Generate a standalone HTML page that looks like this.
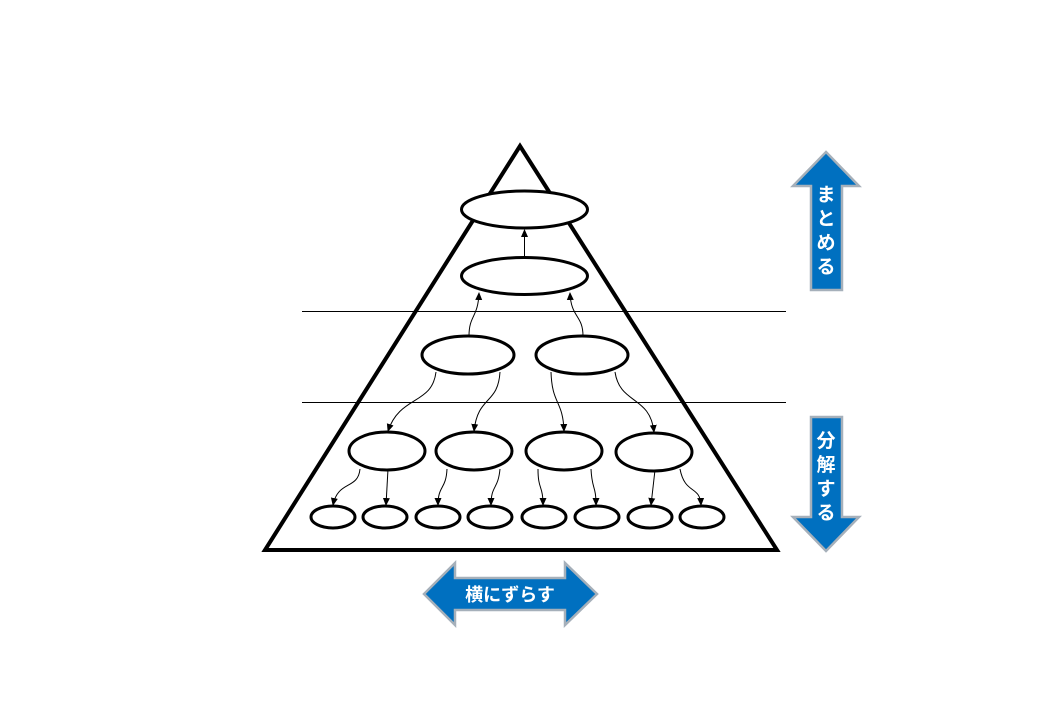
<!DOCTYPE html>
<html><head><meta charset="utf-8"><style>
html,body{margin:0;padding:0;background:#fff;width:1040px;height:720px;overflow:hidden}
svg{display:block}
text{font-family:"Liberation Sans","Noto Sans CJK JP",sans-serif;font-weight:bold;fill:#fff}
</style></head><body>
<svg width="1040" height="720" viewBox="0 0 1040 720" xmlns="http://www.w3.org/2000/svg">
<defs>
<marker id="a" markerWidth="8" markerHeight="8" refX="7" refY="4" orient="auto" markerUnits="userSpaceOnUse">
<path d="M0,0.5 L8,4 L0,7.5 Z" fill="#000"/></marker>
</defs>
<line x1="302" y1="311.5" x2="786" y2="311.5" stroke="#000" stroke-width="1"/>
<line x1="302" y1="402.5" x2="786" y2="402.5" stroke="#000" stroke-width="1"/>
<polygon points="520,146 265,550 777,550" fill="none" stroke="#000" stroke-width="4" stroke-linejoin="miter"/>
<g fill="#fff" stroke="#000" stroke-width="3">
<ellipse cx="524.5" cy="209.5" rx="63" ry="18.5"/>
<ellipse cx="524.5" cy="276" rx="63" ry="18.5"/>
<ellipse cx="468" cy="355" rx="46" ry="19"/>
<ellipse cx="582" cy="355" rx="46" ry="19"/>
<ellipse cx="387" cy="451" rx="38" ry="19"/>
<ellipse cx="474" cy="451" rx="38" ry="19"/>
<ellipse cx="564" cy="451" rx="38" ry="19"/>
<ellipse cx="654" cy="452" rx="38" ry="19"/>
<ellipse cx="333" cy="517" rx="22" ry="11"/>
<ellipse cx="385" cy="517" rx="22" ry="11"/>
<ellipse cx="438" cy="517" rx="22" ry="11"/>
<ellipse cx="490" cy="517" rx="22" ry="11"/>
<ellipse cx="544" cy="517" rx="22" ry="11"/>
<ellipse cx="597" cy="517" rx="22" ry="11"/>
<ellipse cx="650" cy="517" rx="22" ry="11"/>
<ellipse cx="702" cy="517" rx="22" ry="11"/>
</g>
<g fill="none" stroke="#000" stroke-width="1" marker-end="url(#a)">
<path d="M524.5,257 L524.5,230"/>
<path d="M469,336 C469,315 478,318 479,293"/>
<path d="M583,336 C583,315 571,318 570,293"/>
<path d="M436,372 C432,405 400,395 388,431"/>
<path d="M500,372 C498,405 478,395 474,431"/>
<path d="M551,372 C552,405 563,400 564,431"/>
<path d="M615,372 C620,405 650,395 654,432"/>
<path d="M360,469 C358,490 338,480 333,505"/>
<path d="M388,469 L386,505"/>
<path d="M447,469 C446,490 438,485 438,505"/>
<path d="M500,469 C498,490 491,485 491,505"/>
<path d="M538,469 C538,490 543,485 543,505"/>
<path d="M591,469 C592,490 596,485 596,505"/>
<path d="M655,470 L651,505"/>
<path d="M680,469 C685,495 700,485 701,505"/>
</g>
<g fill="#0070c0" stroke="#a6b0ba" stroke-width="2.5">
<polygon points="826,152 859,186 842,186 842,290 811,290 811,186 793,186"/>
<polygon points="826,551 859,517 842,517 842,417 811,417 811,517 793,517"/>
<polygon points="424,594 455,563 455,578 565,578 565,563 597,594 565,625 565,610 455,610 455,625"/>
</g>
<text x="826" y="201" font-size="19" text-anchor="middle">ま</text>
<text x="826" y="225" font-size="19" text-anchor="middle">と</text>
<text x="826" y="249" font-size="19" text-anchor="middle">め</text>
<text x="826" y="273" font-size="19" text-anchor="middle">る</text>
<text x="826" y="447" font-size="19" text-anchor="middle">分</text>
<text x="826" y="471" font-size="19" text-anchor="middle">解</text>
<text x="826" y="495" font-size="19" text-anchor="middle">す</text>
<text x="826" y="519" font-size="19" text-anchor="middle">る</text>
<text x="510" y="601" font-size="18" text-anchor="middle">横にずらす</text>
</svg>
</body></html>
